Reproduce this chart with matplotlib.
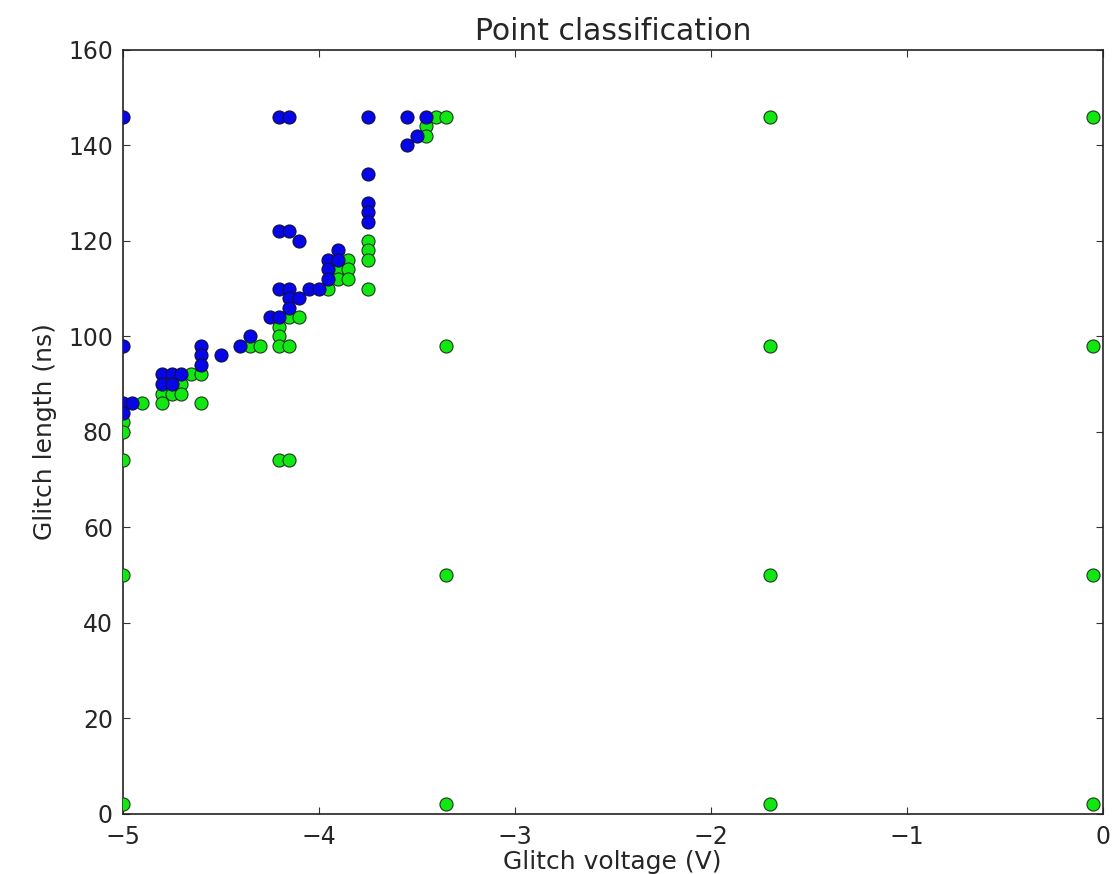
import matplotlib
matplotlib.use("Agg")
import matplotlib.pyplot as plt

# points that glitched (blue) and points that didn't (green)
blue_v = [-5, -5, -5, -5, -4.95,
          -4.8, -4.75, -4.7, -4.8, -4.75,
          -4.6, -4.6, -4.6, -4.5, -4.4, -4.35,
          -4.25, -4.2,
          -4.2, -4.15, -4.2, -4.15, -4.1,
          -4.2, -4.15, -4.05, -4.0,
          -4.15, -4.1, -4.15,
          -3.95, -3.9, -3.9, -3.95, -3.95,
          -3.75, -3.75, -3.75, -3.75, -3.75,
          -3.55, -3.45, -3.5, -3.55]
blue_ns = [146, 98, 86, 84, 86,
           92, 92, 92, 90, 90,
           98, 96, 94, 96, 98, 100,
           104, 104,
           146, 146, 122, 122, 120,
           110, 110, 110, 110,
           108, 108, 106,
           116, 118, 116, 114, 112,
           146, 134, 128, 126, 124,
           146, 146, 142, 140]

green_v = [-5, -5, -5, -5, -5, -4.9,
           -4.65, -4.6, -4.7, -4.8, -4.75, -4.7, -4.8, -4.6,
           -4.35, -4.3,
           -4.2, -4.2, -4.2, -4.15, -4.15, -4.1,
           -4.2, -4.15,
           -3.95, -3.9, -3.9, -3.85, -3.85, -3.85,
           -3.75, -3.75, -3.75, -3.75,
           -3.45, -3.45, -3.4, -3.35,
           -3.35, -3.35, -3.35,
           -1.7, -1.7, -1.7, -1.7,
           -0.05, -0.05, -0.05, -0.05]
green_ns = [82, 80, 74, 50, 2, 86,
            92, 92, 90, 88, 88, 88, 86, 86,
            98, 98,
            102, 100, 98, 98, 104, 104,
            74, 74,
            110, 114, 112, 116, 114, 112,
            120, 118, 116, 110,
            144, 142, 146, 146,
            98, 50, 2,
            146, 98, 50, 2,
            146, 98, 50, 2]

plt.rcParams['text.color'] = '#262626'
plt.rcParams['axes.labelcolor'] = '#262626'

fig = plt.figure(figsize=(11.15, 8.74), dpi=100)
ax = fig.add_axes([0.11, 0.069, 0.879, 0.874])

ax.plot(green_v, green_ns, 'o', color='#11e811', mec='#1a3a1a', mew=0.8, ms=9.4,
        zorder=3)
ax.plot(blue_v, blue_ns, 'o', color='#0606e8', mec='#101040', mew=0.8, ms=9.4,
        zorder=4)

ax.set_xlim(-5, 0)
ax.set_ylim(0, 160)
ax.set_xticks([-5, -4, -3, -2, -1, 0])
ax.set_yticks(range(0, 161, 20))
ax.tick_params(direction='in', top=True, right=True, length=5, width=0.8,
               labelsize=17, color='#333333', labelcolor='#262626')
ax.tick_params(axis='x', pad=8)
ax.tick_params(axis='y', pad=7)
for s in ax.spines.values():
    s.set_linewidth(1.2)
    s.set_color('#222222')

ax.set_title("Point classification", fontsize=21.5, pad=7)
ax.set_xlabel("Glitch voltage (V)", fontsize=18, labelpad=1)
ax.set_ylabel("Glitch length (ns)", fontsize=18, labelpad=8)

fig.savefig("out.png", dpi=100)
